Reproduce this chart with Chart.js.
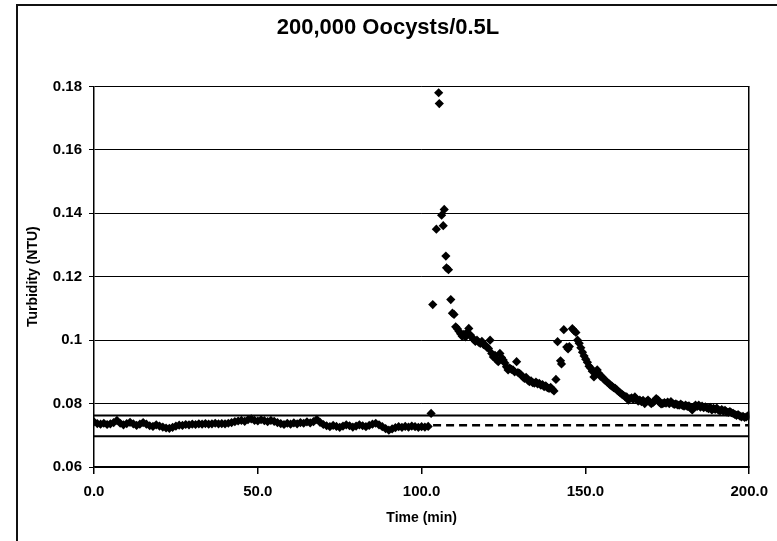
<!DOCTYPE html>
<html lang="en">
<head>
  <meta charset="UTF-8">
  <title>200,000 Oocysts/0.5L</title>
  <script src="https://cdn.jsdelivr.net/npm/chart.js@4"></script>
  <style>
    html, body { margin: 0; padding: 0; background: #fff; }
    .frame {
      position: absolute; left: 16px; top: 4px; width: 759px; height: 535px;
      border-left: 2px solid #111; border-top: 2px solid #111;
    }
    canvas { display: block; }
  </style>
</head>
<body>
  <div class="frame">
    <canvas id="turbidity-chart" width="759" height="535"></canvas>
  </div>

  <script>
    // baseline readings, one per minute from t = 0 to t = 102 min
    const baselineTurbidity = [
      0.0742, 0.0737, 0.0735, 0.0738, 0.0734, 0.0736, 0.0740, 0.0747, 0.0738, 0.0733,
      0.0737, 0.0741, 0.0736, 0.0731, 0.0735, 0.0740, 0.0735, 0.0730, 0.0728, 0.0733,
      0.0729, 0.0726, 0.0723, 0.0722, 0.0725, 0.0729, 0.0732, 0.0731, 0.0734, 0.0733,
      0.0735, 0.0734, 0.0736, 0.0735, 0.0737, 0.0735, 0.0736, 0.0738, 0.0736, 0.0737,
      0.0736, 0.0738, 0.0740, 0.0743, 0.0745, 0.0747, 0.0744, 0.0749, 0.0752, 0.0747,
      0.0745, 0.0749, 0.0746, 0.0743, 0.0747, 0.0744, 0.0740, 0.0737, 0.0734, 0.0738,
      0.0735, 0.0739, 0.0736, 0.0740, 0.0738, 0.0742, 0.0739, 0.0743, 0.0750, 0.0741,
      0.0734, 0.0730, 0.0727, 0.0731, 0.0728, 0.0725, 0.0729, 0.0733, 0.0730, 0.0726,
      0.0729, 0.0733, 0.0730, 0.0727, 0.0731, 0.0735, 0.0738, 0.0733, 0.0727, 0.0721,
      0.0716, 0.0720, 0.0724, 0.0727, 0.0725, 0.0728, 0.0726, 0.0729, 0.0727, 0.0725,
      0.0727, 0.0726, 0.0728
    ];

    // after the oocyst dose (min)
    const eventTimes = [
      102.9, 103.4, 104.5, 105.2, 105.4, 106.1, 106.6, 106.9, 107.4, 107.6,
      108.2, 108.9, 109.4, 109.9, 110.4, 110.9, 111.4, 111.9, 112.4, 112.9,
      113.4, 113.9, 114.4, 114.9, 115.4, 115.9, 116.4, 116.9, 117.4, 117.9,
      118.4, 118.9, 119.4, 119.9, 120.4, 120.9, 121.4, 121.9, 122.4, 122.9,
      123.4, 123.9, 124.4, 124.9, 125.4, 125.9, 126.4, 126.9, 127.4, 127.9,
      128.4, 129.0, 129.4, 129.9, 130.4, 130.9, 131.4, 131.9, 132.4, 132.9,
      133.4, 133.9, 134.4, 134.9, 135.4, 135.9, 136.4, 136.9, 137.4, 137.9,
      138.4, 138.9, 139.4, 139.9, 140.4, 141.0, 141.5, 142.4, 142.7, 143.4,
      144.3, 144.7, 145.1, 146.0, 146.5, 147.1, 147.6, 148.1, 148.6, 149.1,
      149.6, 150.1, 150.6, 151.1, 151.6, 152.1, 152.6, 153.1, 153.6, 154.1,
      154.6, 155.1, 155.6, 156.1, 156.6, 157.1, 157.6, 158.1, 158.6, 159.1,
      159.6, 160.1, 160.6, 161.1, 161.6, 162.1, 162.6, 163.1, 163.6, 164.1,
      164.6, 165.1, 165.6, 166.1, 166.6, 167.1, 167.6, 168.1, 168.6, 169.1,
      169.6, 170.1, 170.6, 171.1, 171.6, 172.1, 172.6, 173.1, 173.6, 174.1,
      174.6, 175.1, 175.6, 176.1, 176.6, 177.1, 177.6, 178.1, 178.6, 179.1,
      179.6, 180.1, 180.6, 181.1, 181.6, 182.1, 182.6, 183.1, 183.6, 184.1,
      184.6, 185.1, 185.6, 186.1, 186.6, 187.1, 187.6, 188.1, 188.6, 189.1,
      189.6, 190.1, 190.6, 191.1, 191.6, 192.1, 192.6, 193.1, 193.6, 194.1,
      194.6, 195.1, 195.6, 196.1, 196.6, 197.1, 197.6, 198.1, 198.6, 199.1,
      199.6, 200.0
    ];
    const eventTurbidity = [
      0.0769, 0.1112, 0.1350, 0.1780, 0.1746, 0.1394, 0.1361, 0.1412, 0.1265, 0.1228,
      0.1222, 0.1128, 0.1085, 0.1081, 0.1042, 0.1036, 0.1028, 0.1020, 0.1012, 0.1018,
      0.1010, 0.1024, 0.1037, 0.1016, 0.1008, 0.1002, 0.0996, 0.1000, 0.0994, 0.0990,
      0.0996, 0.0986, 0.0984, 0.0978, 0.0974, 0.1000, 0.0958, 0.0947, 0.0952, 0.0938,
      0.0932, 0.0958, 0.0945, 0.0937, 0.0928, 0.0916, 0.0906, 0.0912, 0.0908, 0.0906,
      0.0900, 0.0932, 0.0898, 0.0895, 0.0890, 0.0884, 0.0879, 0.0883, 0.0874, 0.0869,
      0.0872, 0.0866, 0.0864, 0.0868, 0.0862, 0.0864, 0.0858, 0.0860, 0.0853, 0.0856,
      0.0850, 0.0848, 0.0851, 0.0845, 0.0840, 0.0876, 0.0995, 0.0935, 0.0925, 0.1033,
      0.0978, 0.0972, 0.0980, 0.1036, 0.1030, 0.1024, 0.1000, 0.0990, 0.0976, 0.0962,
      0.0950, 0.0940, 0.0930, 0.0918, 0.0912, 0.0902, 0.0884, 0.0898, 0.0906, 0.0895,
      0.0886, 0.0884, 0.0878, 0.0872, 0.0868, 0.0864, 0.0858, 0.0855, 0.0850, 0.0848,
      0.0843, 0.0838, 0.0834, 0.0830, 0.0826, 0.0822, 0.0821, 0.0811, 0.0816, 0.0818,
      0.0813, 0.0821, 0.0814, 0.0808, 0.0811, 0.0806, 0.0810, 0.0800, 0.0806, 0.0811,
      0.0805, 0.0800, 0.0803, 0.0808, 0.0816, 0.0812, 0.0804, 0.0799, 0.0800, 0.0803,
      0.0801, 0.0805, 0.0800, 0.0806, 0.0801, 0.0797, 0.0799, 0.0796, 0.0795, 0.0798,
      0.0794, 0.0792, 0.0795, 0.0791, 0.0793, 0.0786, 0.0780, 0.0790, 0.0795, 0.0791,
      0.0795, 0.0789, 0.0792, 0.0787, 0.0790, 0.0786, 0.0784, 0.0788, 0.0780, 0.0785,
      0.0782, 0.0786, 0.0779, 0.0777, 0.0781, 0.0776, 0.0779, 0.0774, 0.0772, 0.0775,
      0.0771, 0.0769, 0.0766, 0.0763, 0.0765, 0.0761, 0.0758, 0.0760, 0.0756, 0.0758,
      0.0761, 0.0762
    ];

    // control lines (NTU)
    const upperLimit = 0.0762;
    const meanLevel = 0.0732;
    const lowerLimit = 0.0697;
    const meanLineStart = 103.5;
    const timeRange = [0, 200];

    const xTickValues = [0, 50, 100, 150, 200];
    const xTickLabels = ['0.0', '50.0', '100.0', '150.0', '200.0'];
    const yTickValues = [0.06, 0.08, 0.10, 0.12, 0.14, 0.16, 0.18];
    const yTickLabels = ['0.06', '0.08', '0.1', '0.12', '0.14', '0.16', '0.18'];

    const FONT = "'Liberation Sans', Arial, sans-serif";

    const points = baselineTurbidity.map((v, i) => ({ x: i, y: v }))
      .concat(eventTurbidity.map((v, i) => ({ x: eventTimes[i], y: v })));

    function flatLine(y, x0, x1) {
      return [{ x: x0, y: y }, { x: x1, y: y }];
    }

    const ctx = document.getElementById('turbidity-chart').getContext('2d');

    new Chart(ctx, {
      type: 'scatter',
      data: {
        datasets: [
          {
            label: 'Turbidity',
            data: points,
            pointStyle: 'rectRot',
            pointRadius: 4.6,
            pointBorderWidth: 0,
            backgroundColor: '#000',
            borderColor: '#000'
          },
          {
            type: 'line',
            label: 'Upper',
            data: flatLine(upperLimit, timeRange[0], timeRange[1]),
            borderColor: '#000',
            borderWidth: 2,
            pointRadius: 0
          },
          {
            type: 'line',
            label: 'Lower',
            data: flatLine(lowerLimit, timeRange[0], timeRange[1]),
            borderColor: '#000',
            borderWidth: 2,
            pointRadius: 0
          },
          {
            type: 'line',
            label: 'Mean',
            data: flatLine(meanLevel, meanLineStart, timeRange[1]),
            borderColor: '#000',
            borderWidth: 2.5,
            borderDash: [8, 5],
            pointRadius: 0
          }
        ]
      },
      options: {
        responsive: false,
        animation: false,
        devicePixelRatio: 1,
        events: [],
        layout: { padding: { left: 0, right: 19, top: 0, bottom: 0 } },
        plugins: {
          legend: { display: false },
          tooltip: { enabled: false },
          title: {
            display: true,
            text: '200,000 Oocysts/0.5L',
            color: '#000',
            font: { family: FONT, size: 22, weight: 'bold' },
            padding: { top: 9, bottom: 45 }
          }
        },
        scales: {
          x: {
            type: 'linear',
            min: timeRange[0],
            max: timeRange[1],
            afterBuildTicks: s => { s.ticks = xTickValues.map(v => ({ value: v })); },
            afterFit: s => { s.height = 74; },
            ticks: {
              color: '#000',
              padding: 9,
              maxRotation: 0,
              font: { family: FONT, size: 15, weight: 'bold' },
              callback: (v, i) => xTickLabels[i]
            },
            grid: { drawOnChartArea: false, drawTicks: true, tickLength: 7, color: '#000', lineWidth: 1.5 },
            border: { display: true, color: '#000', width: 1.5 },
            title: {
              display: true,
              text: 'Time (min)',
              color: '#000',
              font: { family: FONT, size: 14, weight: 'bold' },
              padding: { top: 0, bottom: 14 }
            }
          },
          y: {
            type: 'linear',
            min: 0.06,
            max: 0.18,
            afterBuildTicks: s => { s.ticks = yTickValues.map(v => ({ value: v })); },
            afterFit: s => { s.width = 76; },
            ticks: {
              color: '#000',
              padding: 7,
              font: { family: FONT, size: 15, weight: 'bold' },
              callback: (v, i) => yTickLabels[i]
            },
            grid: { color: '#000', lineWidth: 1, tickLength: 5 },
            border: { display: true, color: '#000', width: 1.5 },
            title: {
              display: true,
              text: 'Turbidity (NTU)',
              color: '#000',
              font: { family: FONT, size: 14, weight: 'bold' },
              padding: { top: 7, bottom: 0 }
            }
          },
          // right edge of the plot area
          yRight: {
            type: 'linear',
            position: 'right',
            min: 0.06,
            max: 0.18,
            afterFit: s => { s.width = 8; },
            ticks: { display: false },
            grid: { display: false },
            border: { display: true, color: '#000', width: 1.5 }
          }
        }
      }
    });
  </script>
</body>
</html>
